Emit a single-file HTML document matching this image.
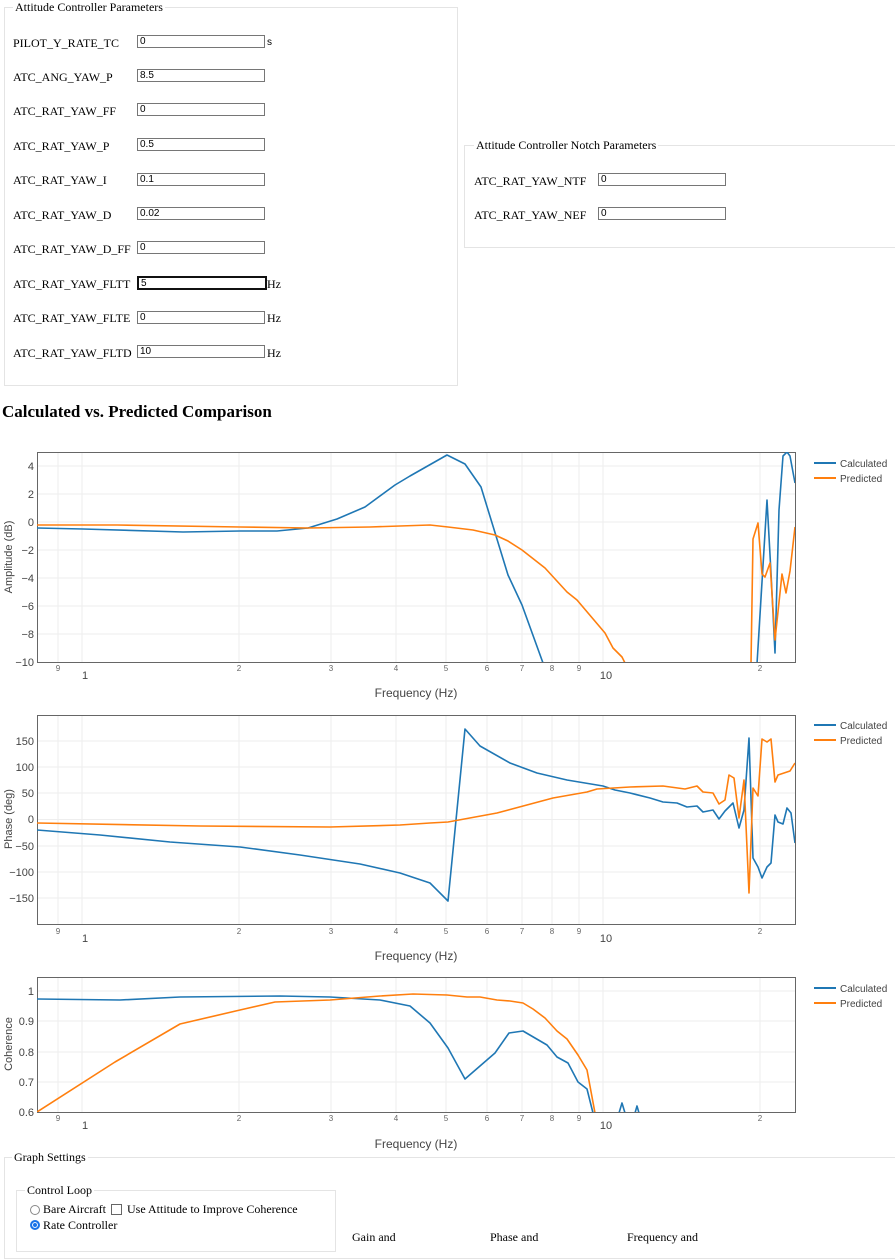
<!DOCTYPE html>
<html><head><meta charset="utf-8"><style>
body{margin:0;width:895px;height:1237px;overflow:hidden;background:#fff;font-family:"Liberation Serif",serif;position:relative}
.a{position:absolute}
.fs{position:absolute;border:1px solid #e4e4e4}
.lg{position:absolute;background:#fff;padding:0 2px;font-size:12px;color:#000}
.lb{position:absolute;font-size:12px;color:#000;white-space:nowrap}
.in{position:absolute;width:124px;height:11px;border:1px solid #767676;font-family:"Liberation Sans",sans-serif;font-size:10px;line-height:11px;padding-left:2px;top:0}
svg text{font-family:"Liberation Sans",sans-serif}
</style></head><body>
<div class="fs" style="left:4px;top:7px;width:452px;height:377px"></div>
<div class="lg" style="left:13px;top:0px">Attitude Controller Parameters</div>
<div class="lb" style="left:13px;top:36px">PILOT_Y_RATE_TC</div><div class="in" style="left:137px;top:35px">0</div><div class="lb" style="left:267px;top:37px;font-size:10px;font-family:'Liberation Sans'">s</div>
<div class="lb" style="left:13px;top:70px">ATC_ANG_YAW_P</div><div class="in" style="left:137px;top:69px">8.5</div>
<div class="lb" style="left:13px;top:104px">ATC_RAT_YAW_FF</div><div class="in" style="left:137px;top:103px">0</div>
<div class="lb" style="left:13px;top:139px">ATC_RAT_YAW_P</div><div class="in" style="left:137px;top:138px">0.5</div>
<div class="lb" style="left:13px;top:173px">ATC_RAT_YAW_I</div><div class="in" style="left:137px;top:173px">0.1</div>
<div class="lb" style="left:13px;top:208px">ATC_RAT_YAW_D</div><div class="in" style="left:137px;top:207px">0.02</div>
<div class="lb" style="left:13px;top:242px">ATC_RAT_YAW_D_FF</div><div class="in" style="left:137px;top:241px">0</div>
<div class="lb" style="left:13px;top:277px">ATC_RAT_YAW_FLTT</div><div class="in" style="left:137px;top:276px;border:2px solid #111;height:10px">5</div><div class="lb" style="left:267px;top:277px">Hz</div>
<div class="lb" style="left:13px;top:311px">ATC_RAT_YAW_FLTE</div><div class="in" style="left:137px;top:311px">0</div><div class="lb" style="left:267px;top:311px">Hz</div>
<div class="lb" style="left:13px;top:346px">ATC_RAT_YAW_FLTD</div><div class="in" style="left:137px;top:345px">10</div><div class="lb" style="left:267px;top:346px">Hz</div>

<div class="fs" style="left:464px;top:145px;width:440px;height:101px"></div>
<div class="lg" style="left:474px;top:138px">Attitude Controller Notch Parameters</div>
<div class="lb" style="left:474px;top:174px">ATC_RAT_YAW_NTF</div><div class="in" style="left:598px;top:173px">0</div>
<div class="lb" style="left:474px;top:208px">ATC_RAT_YAW_NEF</div><div class="in" style="left:598px;top:207px">0</div>

<div class="a" style="left:2px;top:402px;font-size:17px;font-weight:bold">Calculated vs. Predicted Comparison</div>

<svg class="a" style="left:0;top:0" width="895" height="1237" viewBox="0 0 895 1237">
<g stroke="#eee" stroke-width="1">
<path d="M58 452V662M82 452V662M239 452V662M331 452V662M396 452V662M446 452V662M487 452V662M522 452V662M552 452V662M579 452V662M603 452V662M760 452V662"/>
<path d="M37 466H795M37 494H795M37 522H795M37 550H795M37 578H795M37 606H795M37 634H795"/>
<path d="M58 715V924M82 715V924M239 715V924M331 715V924M396 715V924M446 715V924M487 715V924M522 715V924M552 715V924M579 715V924M603 715V924M760 715V924"/>
<path d="M37 741H795M37 767H795M37 793H795M37 819.5H795M37 846H795M37 872H795M37 898H795"/>
<path d="M58 977V1112M82 977V1112M239 977V1112M331 977V1112M396 977V1112M446 977V1112M487 977V1112M522 977V1112M552 977V1112M579 977V1112M603 977V1112M760 977V1112"/>
<path d="M37 991H795M37 1021H795M37 1052H795M37 1082H795"/>
</g>
<g fill="none" stroke="#666" stroke-width="1"><rect x="37.5" y="452.5" width="758" height="210"/><rect x="37.5" y="715.5" width="758" height="209"/><rect x="37.5" y="977.5" width="758" height="135"/></g>
<defs><clipPath id="c1"><rect x="37" y="452" width="758" height="210"/></clipPath><clipPath id="c2"><rect x="37" y="715" width="758" height="209"/></clipPath><clipPath id="c3"><rect x="37" y="977" width="758" height="135"/></clipPath></defs>
<g fill="none" stroke-width="1.6" stroke-linejoin="round">
<g clip-path="url(#c1)">
<polyline stroke="#1f77b4" points="37,528 83,529 183,532 240,531 277,531 308,528 337,519 365,507 395,485 410,476 447,455 465,464 481,487 508,575 522,605 543,663"/>
<polyline stroke="#1f77b4" points="757,664 767,500 771,573 775,653 779,510 783,456 787,452 790,456 795,483"/>
<polyline stroke="#ff7f0e" points="37,525 117,525 240,527 308,528 370,527 430,525 448,527 473,530 495,535 508,541 522,550 545,568 567,592 577,600 605,633 613,648 622,657 625,663"/>
<polyline stroke="#ff7f0e" points="751,664 753,539 758,523 762,574 765,577 770,563 775,640 782,574 786,593 790,571 795,527"/>
</g>
<g clip-path="url(#c2)">
<polyline stroke="#1f77b4" points="37,830 100,835 170,842 240,847 300,855 360,864 400,873 430,883 448,901 465,729 480,746 510,763 537,773 567,780 603,786 615,790 630,793 650,798 663,802 677,803 687,807 697,806 703,812 713,810 719,819 725,811 733,803 739,828 744,810 749,738 753,858 758,867 762,878 767,867 771,863 775,815 778,822 783,824 787,808 791,813 795,843"/>
<polyline stroke="#ff7f0e" points="37,823 200,826 330,827 400,825 430,823 448,822 497,813 553,798 587,792 597,789 630,787 663,786 685,789 697,786 703,792 713,793 719,804 725,800 729,775 734,778 739,818 744,780 749,893 753,788 758,796 762,739 767,742 771,739 775,782 778,775 790,771 795,763"/>
</g>
<g clip-path="url(#c3)">
<polyline stroke="#1f77b4" points="37,999 120,1000 180,997 280,996 330,997 380,1000 410,1006 430,1023 448,1048 465,1079 495,1053 509,1033 523,1031 547,1045 557,1057 568,1063 578,1082 587,1089 593,1113"/>
<polyline stroke="#1f77b4" points="619,1113 622,1103 625,1113"/>
<polyline stroke="#1f77b4" points="635,1113 637,1106 639,1113"/>
<polyline stroke="#ff7f0e" points="37,1112 115,1062 180,1024 240,1010 275,1002 330,1000 380,996 413,994 447,995 467,997 480,997 497,1000 510,1001 523,1003 533,1009 545,1018 557,1031 567,1039 578,1055 587,1070 595,1113"/>
</g>
</g>
<g font-size="11" fill="#444" text-anchor="end">
<text x="34" y="470">4</text><text x="34" y="498">2</text><text x="34" y="526">0</text><text x="34" y="554">−2</text><text x="34" y="582">−4</text><text x="34" y="610">−6</text><text x="34" y="638">−8</text><text x="34" y="666">−10</text>
<text x="34" y="745">150</text><text x="34" y="771">100</text><text x="34" y="797">50</text><text x="34" y="823">0</text><text x="34" y="850">−50</text><text x="34" y="876">−100</text><text x="34" y="902">−150</text>
<text x="34" y="995">1</text><text x="34" y="1025">0.9</text><text x="34" y="1056">0.8</text><text x="34" y="1086">0.7</text><text x="34" y="1116">0.6</text>
</g>
<g font-size="8" fill="#666" text-anchor="middle">
<g id="t1"><text x="58" y="671">9</text><text x="239" y="671">2</text><text x="331" y="671">3</text><text x="396" y="671">4</text><text x="446" y="671">5</text><text x="487" y="671">6</text><text x="522" y="671">7</text><text x="552" y="671">8</text><text x="579" y="671">9</text><text x="760" y="671">2</text></g>
<use href="#t1" y="263"/><use href="#t1" y="450"/>
</g>
<g font-size="11" fill="#444" text-anchor="middle">
<text x="85" y="679">1</text><text x="606" y="679">10</text>
<text x="85" y="942">1</text><text x="606" y="942">10</text>
<text x="85" y="1129">1</text><text x="606" y="1129">10</text>
<text x="416" y="697" font-size="12">Frequency (Hz)</text>
<text x="416" y="960" font-size="12">Frequency (Hz)</text>
<text x="416" y="1148" font-size="12">Frequency (Hz)</text>
<text transform="translate(12,557) rotate(-90)" font-size="11">Amplitude (dB)</text>
<text transform="translate(12,819) rotate(-90)" font-size="11">Phase (deg)</text>
<text transform="translate(12,1044) rotate(-90)" font-size="11">Coherence</text>
</g>
<g font-size="10" fill="#444">
<path d="M814 463H836M814 725H836M814 988H836" stroke="#1f77b4" stroke-width="2"/>
<path d="M814 478H836M814 740H836M814 1003H836" stroke="#ff7f0e" stroke-width="2"/>
<text x="840" y="467">Calculated</text><text x="840" y="482">Predicted</text>
<text x="840" y="729">Calculated</text><text x="840" y="744">Predicted</text>
<text x="840" y="992">Calculated</text><text x="840" y="1007">Predicted</text>
</g>
</svg>

<div class="fs" style="left:4px;top:1157px;width:900px;height:100px"></div>
<div class="lg" style="left:12px;top:1150px">Graph Settings</div>
<div class="fs" style="left:16px;top:1190px;width:318px;height:60px"></div>
<div class="lg" style="left:25px;top:1183px">Control Loop</div>
<div class="a" style="left:30px;top:1205px;width:8px;height:8px;border:1px solid #888;border-radius:50%"></div>
<div class="lb" style="left:43px;top:1202px">Bare Aircraft</div>
<div class="a" style="left:111px;top:1204px;width:9px;height:9px;border:1px solid #666"></div>
<div class="lb" style="left:127px;top:1202px">Use Attitude to Improve Coherence</div>
<div class="a" style="left:30px;top:1220px;width:6px;height:6px;border:2px solid #1a73e8;border-radius:50%;background:#1a73e8;box-shadow:inset 0 0 0 1px #fff"></div>
<div class="lb" style="left:43px;top:1218px">Rate Controller</div>
<div class="lb" style="left:352px;top:1230px">Gain and</div>
<div class="lb" style="left:490px;top:1230px">Phase and</div>
<div class="lb" style="left:627px;top:1230px">Frequency and</div>
</body></html>
